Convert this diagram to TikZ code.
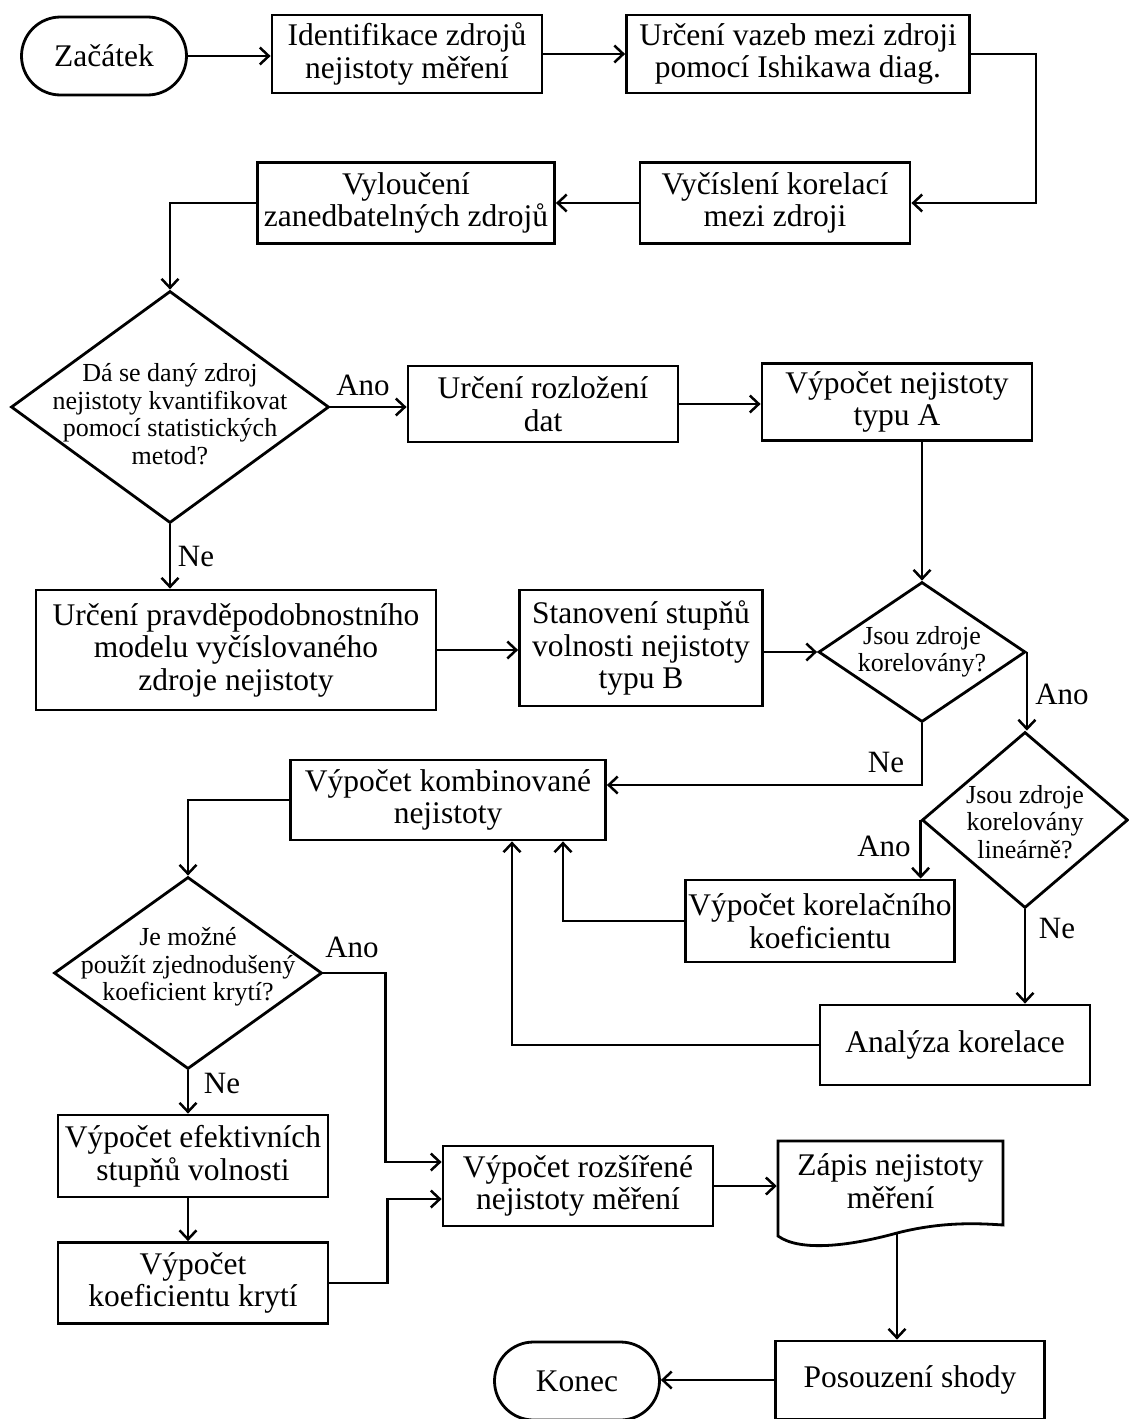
\documentclass[tikz,border=0pt]{standalone}
\usepackage{fontspec}
\setmainfont{Liberation Serif}
\usetikzlibrary{arrows.meta,shapes.geometric,shapes.misc,calc}
\begin{document}
\begin{tikzpicture}[x=1pt,y=-1pt,
  line width=2.5pt,
  arr/.style={-{Straight Barb[length=9pt,width=17pt]}},
  box/.style={draw, line width=2.8pt, rectangle, inner sep=0pt, align=center, font=\fontsize{31.5}{32.5}\selectfont},
  term/.style={draw, line width=2.8pt, rounded rectangle, inner sep=0pt, align=center, font=\fontsize{31.5}{32.5}\selectfont},
  dec/.style={draw, line width=2.8pt, diamond, inner sep=0pt},
  dtext/.style={font=\fontsize{26}{27.5}\selectfont, align=center, inner sep=0pt},
  lab/.style={font=\fontsize{31}{35}\selectfont, inner sep=0pt}]

\useasboundingbox (0,0) rectangle (1128,1419);

% nodes
\node[term, minimum width=165pt, minimum height=78pt] (start) at (104,56) {Začátek};
\node[box, minimum width=270pt, minimum height=78pt] (ident) at (407,54) {Identifikace zdrojů\\nejistoty měření};
\node[box, minimum width=343pt, minimum height=78pt] (vazeb) at (798,54) {Určení vazeb mezi zdroji\\pomocí Ishikawa diag.};
\node[box, minimum width=270pt, minimum height=81pt] (vycis) at (775,203) {Vyčíslení korelací\\mezi zdroji};
\node[box, minimum width=297pt, minimum height=81pt] (vylouc) at (406,203) {Vyloučení\\zanedbatelných zdrojů};

\node[dec, minimum width=318pt, minimum height=232pt] (d1) at (170,407) {};
\node[dtext] (d1t) at (170,414) {Dá se daný zdroj\\nejistoty kvantifikovat\\pomocí statistických\\metod?};

\node[box, minimum width=270pt, minimum height=76pt] (rozloz) at (543,404) {Určení rozložení\\dat};
\node[box, minimum width=270pt, minimum height=77pt] (typA) at (897,402) {Výpočet nejistoty\\typu A};

\node[dec, minimum width=207pt, minimum height=140pt] (d2) at (922,652) {};
\node[dtext] (d2t) at (922,652) {Jsou zdroje\\korelovány?};

\node[box, minimum width=400pt, minimum height=120pt] (pravd) at (236,650) {Určení pravděpodobnostního\\modelu vyčíslovaného\\zdroje nejistoty};
\node[box, minimum width=243pt, minimum height=116pt] (stanov) at (641,648) {Stanovení stupňů\\volnosti nejistoty\\typu B};

\node[box, minimum width=315pt, minimum height=80pt] (komb) at (448,800) {Výpočet kombinované\\nejistoty};

\node[dec, minimum width=206pt, minimum height=176pt] (d3) at (1025,820) {};
\node[dtext] (d3t) at (1025,822) {Jsou zdroje\\korelovány\\lineárně?};

\node[box, minimum width=269pt, minimum height=82pt] (korel) at (820,921) {Výpočet korelačního\\koeficientu};
\node[box, minimum width=270pt, minimum height=80pt] (analyza) at (955,1045) {Analýza korelace};

\node[dec, minimum width=268pt, minimum height=192pt] (d4) at (188,973) {};
\node[dtext] (d4t) at (188,967) {Je možné\\použít zjednodušený\\koeficient krytí?};

\node[box, minimum width=270pt, minimum height=82pt] (efekt) at (193,1156) {Výpočet efektivních\\stupňů volnosti};
\node[box, minimum width=270pt, minimum height=81pt] (koef) at (193,1283) {Výpočet\\koeficientu krytí};
\node[box, minimum width=270pt, minimum height=80pt] (rozs) at (578,1186) {Výpočet rozšířené\\nejistoty měření};

\node[inner sep=0pt, minimum width=225pt, minimum height=84pt, align=center, font=\fontsize{31.5}{32.5}\selectfont] (zapis) at (890.5,1181) {Zápis nejistoty\\měření};
\draw[line width=2.8pt] (778,1236) -- (778,1141) -- (1003,1141) -- (1003,1225)
  .. controls (975,1223) and (940,1222) .. (897,1233)
  .. controls (850,1246) and (800,1252) .. (778,1236) -- cycle;
\coordinate (zb) at (897,1234);

\node[box, minimum width=269pt, minimum height=78pt] (posouz) at (910,1380) {Posouzení shody};
\node[term, minimum width=165pt, minimum height=78pt] (konec) at (577,1381) {Konec};

% labels
\node[lab] (l1) at (363,385) {Ano};
\node[lab] (l2) at (196,556) {Ne};
\node[lab] (l3) at (1062,694) {Ano};
\node[lab] (l4) at (886,762) {Ne};
\node[lab] (l5) at (884,846) {Ano};
\node[lab] (l6) at (1057,928) {Ne};
\node[lab] (l7) at (352,947) {Ano};
\node[lab] (l8) at (222,1083) {Ne};

% connectors
\draw[arr] (start.east) -- (start.east -| ident.west);
\draw[arr] (ident.east) -- (ident.east -| vazeb.west);
\draw[arr] (vazeb.east) -- ++(65,0) |- (vycis.east);
\draw[arr] (vycis.west) -- (vycis.west -| vylouc.east);
\draw[arr] (vylouc.west) -| (d1.north);
\draw[arr] (d1.east) -- (d1.east -| rozloz.west);
\draw[arr] (rozloz.east) -- (rozloz.east -| typA.west);
\draw[arr] (d2.north |- typA.south) -- (d2.north);
\draw[arr] (d1.south) -- (d1.south |- pravd.north);
\draw[arr] (pravd.east) -- (pravd.east -| stanov.west);
\draw[arr] (stanov.east |- d2.west) -- (d2.west);
\draw[arr] (d2.east) -- (d2.east |- d3.north);
\draw[arr] (d2.south) |- ($(komb.east)+(0,-15)$);
\draw[arr] (d3.west) -- (d3.west |- korel.north);
\draw[arr] (d3.south) -- (d3.south |- analyza.north);
\draw[arr] (korel.west) -| ($(komb.south)+(115,0)$);
\draw[arr] (analyza.west) -| ($(komb.south)+(64,0)$);
\draw[arr] (komb.west) -| (d4.north);
\draw[arr] (d4.east) -- ++(62,0) |- ($(rozs.west)+(0,-24)$);
\draw[arr] (d4.south) -- (d4.south |- efekt.north);
\draw[arr] (d4.south |- efekt.south) -- (d4.south |- koef.north);
\draw[arr] (koef.east) -- ++(58,0) |- ($(rozs.west)+(0,13)$);
\draw[arr] (rozs.east) -- (rozs.east -| zapis.west);
\draw[arr] (zb) -- (zb |- posouz.north);
\draw[arr] (posouz.west) -- (posouz.west -| konec.east);
\end{tikzpicture}
\end{document}
